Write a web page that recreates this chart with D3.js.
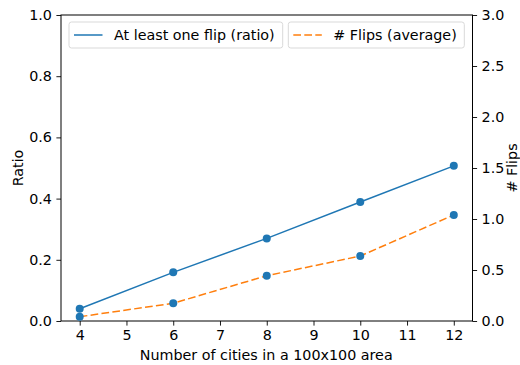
<!DOCTYPE html>
<html>
<head>
<meta charset="utf-8">
<script src="https://cdn.jsdelivr.net/npm/d3@7"></script>
<style>
  html, body { margin: 0; padding: 0; background: #fff; }
  svg { display: block; font-family: "DejaVu Sans", sans-serif; }
</style>
</head>
<body>
<svg id="chart" width="520" height="365"></svg>
<script>
const cities = [4, 6, 8, 10, 12];
const ratioValues = [0.040, 0.159, 0.270, 0.389, 0.507];
const flipValues = [0.042, 0.174, 0.444, 0.637, 1.040];
const xTicks = [4, 5, 6, 7, 8, 9, 10, 11, 12];
const leftTicks = [0.0, 0.2, 0.4, 0.6, 0.8, 1.0];
const rightTicks = [0.0, 0.5, 1.0, 1.5, 2.0, 2.5, 3.0];
const labels = { x: "Number of cities in a 100x100 area", yLeft: "Ratio", yRight: "# Flips",
  s1: "At least one flip (ratio)", s2: "# Flips (average)" };

const blue = "#1f77b4", orange = "#ff7f0e";
const L = 61, R = 472.5, T = 15, B = 321;
const svg = d3.select("#chart");
const x = d3.scaleLinear().domain([3.6, 12.4]).range([L, R]);
const yL = d3.scaleLinear().domain([0, 1]).range([B, T]);
const yR = d3.scaleLinear().domain([0, 3]).range([B, T]);
const fs = 14.3;

// axes
const gx = svg.append("g").attr("transform", `translate(0,${B})`)
  .call(d3.axisBottom(x).tickValues(xTicks).tickFormat(d3.format("d")).tickSizeOuter(0).tickSize(4.6).tickPadding(4));
const gl = svg.append("g").attr("transform", `translate(${L},0)`)
  .call(d3.axisLeft(yL).tickValues(leftTicks).tickFormat(d3.format(".1f")).tickSizeOuter(0).tickSize(4.6).tickPadding(4.5));
const gr = svg.append("g").attr("transform", `translate(${R},0)`)
  .call(d3.axisRight(yR).tickValues(rightTicks).tickFormat(d3.format(".1f")).tickSizeOuter(0).tickSize(4.6).tickPadding(4.5));
[gx, gl, gr].forEach(g => {
  g.select(".domain").remove();
  g.selectAll("line").attr("stroke", "#000").attr("stroke-width", 0.9);
  g.selectAll("text").attr("font-size", fs).attr("fill", "#000").attr("font-family", "DejaVu Sans, sans-serif");
});

// frame
svg.append("rect").attr("x", L).attr("y", T).attr("width", R - L).attr("height", B - T)
  .attr("fill", "none").attr("stroke", "#000").attr("stroke-width", 1);

// lines
const line1 = d3.line().x((d, i) => x(cities[i])).y(d => yL(d));
const line2 = d3.line().x((d, i) => x(cities[i])).y(d => yR(d));
svg.append("path").datum(ratioValues).attr("d", line1).attr("fill", "none")
  .attr("stroke", blue).attr("stroke-width", 1.5);
svg.append("path").datum(flipValues).attr("d", line2).attr("fill", "none")
  .attr("stroke", orange).attr("stroke-width", 1.5).attr("stroke-dasharray", "7.7,3.3");

// points
svg.append("g").selectAll("circle").data(ratioValues).join("circle")
  .attr("cx", (d, i) => x(cities[i])).attr("cy", d => yL(d)).attr("r", 4).attr("fill", blue);
svg.append("g").selectAll("circle").data(flipValues).join("circle")
  .attr("cx", (d, i) => x(cities[i])).attr("cy", d => yR(d)).attr("r", 4).attr("fill", blue);

// axis labels
svg.append("text").attr("x", (L + R) / 2 - 0.5).attr("y", 359.5).attr("text-anchor", "middle")
  .attr("font-size", fs).text(labels.x);
svg.append("text").attr("transform", `translate(23,${(T + B) / 2}) rotate(-90)`).attr("text-anchor", "middle")
  .attr("font-size", fs).text(labels.yLeft);
svg.append("text").attr("transform", `translate(517,${(T + B) / 2}) rotate(-90)`).attr("text-anchor", "middle")
  .attr("font-size", fs).text(labels.yRight);

// legends
function legend(x0, x1, label, color, dash) {
  const g = svg.append("g");
  g.append("rect").attr("x", x0).attr("y", 22).attr("width", x1 - x0).attr("height", 26)
    .attr("rx", 2.5).attr("fill", "#fff").attr("fill-opacity", 0.8).attr("stroke", "#d9d9d9").attr("stroke-width", 1);
  g.append("line").attr("x1", x0 + 5).attr("x2", x0 + 33.5).attr("y1", 35).attr("y2", 35)
    .attr("stroke", color).attr("stroke-width", 1.5).attr("stroke-dasharray", dash ? "7.7,3.3" : null);
  g.append("text").attr("x", x0 + 45).attr("y", 40.2).attr("font-size", fs).text(label);
}
legend(69, 282.7, labels.s1, blue, false);
legend(288.3, 464.3, labels.s2, orange, true);
</script>
</body>
</html>
